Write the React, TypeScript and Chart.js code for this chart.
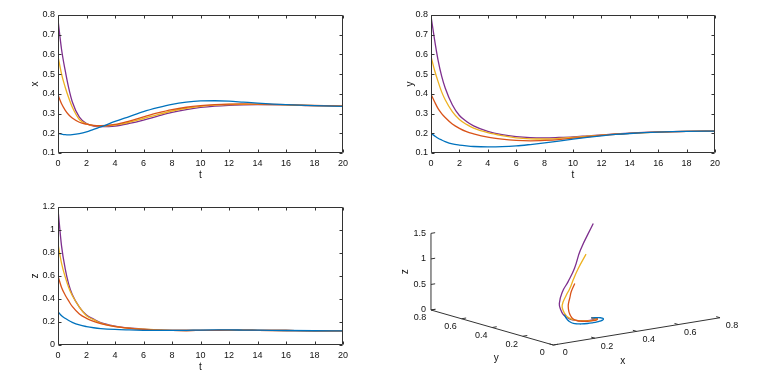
import React, { useEffect, useRef } from 'react';
import { Chart, registerables } from 'chart.js';

Chart.register(...registerables);

// ---------- data ----------
const tValues = [0, 0.25, 0.5, 0.75, 1, 1.5, 2, 2.5, 3, 4, 5, 6, 7, 8, 9, 10, 11, 12, 13, 14, 16, 18, 20];

// x(t)
const xBlue = [0.2, 0.196, 0.193, 0.192, 0.193, 0.198, 0.207, 0.22, 0.232, 0.26, 0.285, 0.31, 0.33, 0.347, 0.358, 0.364, 0.365, 0.363, 0.358, 0.353, 0.345, 0.34, 0.337];
const xRed = [0.395, 0.35, 0.318, 0.294, 0.277, 0.256, 0.246, 0.24, 0.239, 0.245, 0.262, 0.283, 0.303, 0.32, 0.332, 0.34, 0.345, 0.348, 0.349, 0.348, 0.345, 0.341, 0.338];
const xYellow = [0.59, 0.5, 0.435, 0.38, 0.333, 0.27, 0.248, 0.239, 0.237, 0.242, 0.256, 0.275, 0.295, 0.313, 0.327, 0.337, 0.343, 0.346, 0.347, 0.347, 0.344, 0.34, 0.338];
const xPurple = [0.775, 0.625, 0.52, 0.43, 0.36, 0.282, 0.25, 0.237, 0.234, 0.237, 0.25, 0.267, 0.287, 0.306, 0.32, 0.331, 0.338, 0.342, 0.344, 0.345, 0.344, 0.34, 0.338];

// y(t)
const yBlue = [0.2, 0.187, 0.175, 0.166, 0.158, 0.146, 0.14, 0.136, 0.133, 0.131, 0.132, 0.136, 0.143, 0.151, 0.16, 0.17, 0.179, 0.187, 0.194, 0.199, 0.206, 0.21, 0.211];
const yRed = [0.398, 0.36, 0.325, 0.3, 0.28, 0.247, 0.225, 0.208, 0.197, 0.18, 0.17, 0.164, 0.162, 0.164, 0.168, 0.175, 0.182, 0.189, 0.195, 0.2, 0.206, 0.21, 0.211];
const yYellow = [0.59, 0.52, 0.462, 0.41, 0.37, 0.31, 0.27, 0.245, 0.226, 0.203, 0.188, 0.177, 0.172, 0.171, 0.174, 0.179, 0.185, 0.191, 0.196, 0.2, 0.206, 0.21, 0.211];
const yPurple = [0.795, 0.675, 0.57, 0.49, 0.43, 0.345, 0.29, 0.26, 0.238, 0.21, 0.193, 0.183, 0.178, 0.177, 0.179, 0.182, 0.187, 0.192, 0.197, 0.201, 0.207, 0.21, 0.211];

// z(t)
const zBlue = [0.29, 0.255, 0.232, 0.213, 0.197, 0.174, 0.16, 0.15, 0.143, 0.135, 0.131, 0.128, 0.127, 0.127, 0.128, 0.13, 0.131, 0.131, 0.13, 0.129, 0.126, 0.124, 0.123];
const zRed = [0.6, 0.5, 0.435, 0.383, 0.335, 0.27, 0.232, 0.205, 0.185, 0.16, 0.145, 0.136, 0.13, 0.127, 0.126, 0.127, 0.128, 0.129, 0.129, 0.128, 0.126, 0.124, 0.123];
const zYellow = [0.88, 0.71, 0.594, 0.5, 0.43, 0.33, 0.255, 0.22, 0.19, 0.162, 0.146, 0.137, 0.131, 0.127, 0.126, 0.127, 0.128, 0.129, 0.129, 0.128, 0.126, 0.124, 0.123];
const zPurple = [1.18, 0.86, 0.667, 0.53, 0.44, 0.33, 0.26, 0.225, 0.195, 0.165, 0.148, 0.138, 0.131, 0.127, 0.126, 0.127, 0.128, 0.129, 0.129, 0.128, 0.126, 0.124, 0.123];

// ticks
const tTicks = { min: 0, max: 20, step: 2 };
const xTicksRange = { min: 0.1, max: 0.8, step: 0.1 };
const yTicksRange = { min: 0.1, max: 0.8, step: 0.1 };
const zTicksRange = { min: 0, max: 1.2, step: 0.2 };
const xyTicks3D = [0, 0.2, 0.4, 0.6, 0.8];
const zTicks3D = [0, 0.5, 1, 1.5];

// ---------- styles ----------
const COLORS = ['#0072BD', '#D95319', '#EDB120', '#7E2F8E'];
const AXIS = '#333333';
const TEXT = '#111111';
const FAMILY = '"Liberation Sans", Arial, Helvetica, sans-serif';
const TICK_SIZE = 9;
const TITLE_SIZE = 10;
const LW = 1.3;

const fmt = (v: any) => String(Math.round(Number(v) * 100) / 100);

const boxPlugin = {
  id: 'matlabBox',
  afterDatasetsDraw(chart: any) {
    const { ctx, chartArea } = chart;
    const L = Math.round(chartArea.left) + 0.5;
    const R = Math.round(chartArea.right) - 0.5;
    const T = Math.round(chartArea.top) + 0.5;
    const B = Math.round(chartArea.bottom) - 0.5;
    const tl = 3;
    ctx.save();
    ctx.strokeStyle = AXIS;
    ctx.lineWidth = 1;
    ctx.beginPath();
    ctx.rect(L, T, R - L, B - T);
    const sx = chart.scales.x;
    const sy = chart.scales.y;
    sx.ticks.forEach((tk: any) => {
      const p = Math.round(sx.getPixelForValue(tk.value)) + 0.5;
      ctx.moveTo(p, B); ctx.lineTo(p, B - tl);
      ctx.moveTo(p, T); ctx.lineTo(p, T + tl);
    });
    sy.ticks.forEach((tk: any) => {
      const p = Math.round(sy.getPixelForValue(tk.value)) + 0.5;
      ctx.moveTo(L, p); ctx.lineTo(L + tl, p);
      ctx.moveTo(R, p); ctx.lineTo(R - tl, p);
    });
    ctx.stroke();
    ctx.restore();
  },
};

interface Frame {
  w: number; h: number;
  left: number; top: number; right: number; bottom: number;
  yTitleX: number; xTitleY: number;
}

function make2D(canvas: HTMLCanvasElement, series: number[][], range: { min: number; max: number; step: number }, label: string, f: Frame) {
  const titleLH = TITLE_SIZE * 1.2;
  return new Chart(canvas, {
    type: 'line',
    data: {
      datasets: series.map((vals, i) => ({
        data: tValues.map((t, k) => ({ x: t, y: vals[k] })),
        borderColor: COLORS[i],
        backgroundColor: COLORS[i],
        borderWidth: LW,
        pointRadius: 0,
        fill: false,
        cubicInterpolationMode: 'monotone' as const,
      })),
    },
    options: {
      animation: false,
      responsive: false,
      maintainAspectRatio: false,
      events: [],
      layout: { padding: { left: 0, top: f.top, right: f.w - f.right, bottom: 0 } },
      plugins: { legend: { display: false }, tooltip: { enabled: false } },
      scales: {
        x: {
          type: 'linear',
          min: tTicks.min,
          max: tTicks.max,
          grid: { display: false, drawTicks: false },
          border: { display: false },
          ticks: { stepSize: tTicks.step, padding: 5, color: TEXT, font: { family: FAMILY, size: TICK_SIZE }, maxRotation: 0, autoSkip: false, callback: fmt },
          title: { display: true, text: 't', color: TEXT, font: { family: FAMILY, size: TITLE_SIZE }, padding: { top: 0, bottom: f.h - f.xTitleY - titleLH / 2 } },
          afterFit(s: any) { s.height = f.h - f.bottom; s.paddingLeft = 0; s.paddingRight = 0; },
        },
        y: {
          type: 'linear',
          min: range.min,
          max: range.max,
          grid: { display: false, drawTicks: false },
          border: { display: false },
          ticks: { stepSize: range.step, padding: 3, color: TEXT, font: { family: FAMILY, size: TICK_SIZE }, autoSkip: false, callback: fmt },
          title: { display: true, text: label, color: TEXT, font: { family: FAMILY, size: TITLE_SIZE }, padding: { top: f.yTitleX - titleLH / 2, bottom: 0 } },
          afterFit(s: any) { s.width = f.left; s.paddingTop = 0; s.paddingBottom = 0; },
        },
      },
    } as any,
    plugins: [boxPlugin],
  });
}

// 3D view projection (MATLAB-like default view), in units of the x axis
const VIEW_X = { x: 1, y: -0.7337, z: 0 };
const VIEW_Y = { x: 0.1636, y: 0.2099, z: 0.2452 };
const VIEW_RANGE = { xmin: -0.8316, xmax: 0.9966, ymin: -0.1535, ymax: 0.7438 };

function project(x: number, y: number, z: number) {
  return {
    x: x * VIEW_X.x + y * VIEW_X.y + z * VIEW_X.z,
    y: x * VIEW_Y.x + y * VIEW_Y.y + z * VIEW_Y.z,
  };
}

const axes3DPlugin = {
  id: 'axes3d',
  beforeDatasetsDraw(chart: any) {
    const { ctx } = chart;
    const sx = chart.scales.x;
    const sy = chart.scales.y;
    const P = (x: number, y: number, z: number) => {
      const q = project(x, y, z);
      return [sx.getPixelForValue(q.x), sy.getPixelForValue(q.y)];
    };
    const xyMax = xyTicks3D[xyTicks3D.length - 1];
    const zMax = zTicks3D[zTicks3D.length - 1];
    const line = (a: number[], b: number[]) => { ctx.moveTo(a[0], a[1]); ctx.lineTo(b[0], b[1]); };
    ctx.save();
    ctx.strokeStyle = AXIS;
    ctx.lineWidth = 1;
    ctx.beginPath();
    line(P(0, 0, 0), P(xyMax, 0, 0));
    line(P(0, 0, 0), P(0, xyMax, 0));
    line(P(0, xyMax, 0), P(0, xyMax, zMax));
    xyTicks3D.forEach((v) => {
      line(P(v, 0, 0), P(v, 0.025, 0));
      line(P(0, v, 0), P(0.022, v, 0));
    });
    zTicks3D.forEach((v) => {
      line(P(0, xyMax, v), P(0.02, xyMax, v));
    });
    ctx.stroke();

    ctx.fillStyle = TEXT;
    ctx.font = `${TICK_SIZE}px ${FAMILY}`;
    ctx.textBaseline = 'middle';
    ctx.textAlign = 'center';
    xyTicks3D.forEach((v) => {
      const a = P(v, 0, 0);
      ctx.fillText(fmt(v), a[0] + 12, a[1] + 8);
      const b = P(0, v, 0);
      ctx.fillText(fmt(v), b[0] - 11, b[1] + 8);
    });
    ctx.textAlign = 'right';
    zTicks3D.forEach((v) => {
      const c = P(0, xyMax, v);
      ctx.fillText(fmt(v), c[0] - 5, c[1]);
    });
    ctx.font = `${TITLE_SIZE}px ${FAMILY}`;
    ctx.textAlign = 'center';
    const mx = P(xyMax / 2, 0, 0);
    ctx.fillText('x', mx[0] - 14, mx[1] + 30);
    const my = P(0, xyMax / 2, 0);
    ctx.fillText('y', my[0] + 4, my[1] + 31);
    const mz = P(0, xyMax, zMax / 2);
    ctx.translate(mz[0] - 26, mz[1]);
    ctx.rotate(-Math.PI / 2);
    ctx.fillText('z', 0, 0);
    ctx.restore();
  },
};

function make3D(canvas: HTMLCanvasElement) {
  const xs = [xBlue, xRed, xYellow, xPurple];
  const ys = [yBlue, yRed, yYellow, yPurple];
  const zs = [zBlue, zRed, zYellow, zPurple];
  return new Chart(canvas, {
    type: 'scatter',
    data: {
      datasets: xs.map((xv, i) => ({
        data: xv.map((xx, k) => project(xx, ys[i][k], zs[i][k])),
        borderColor: COLORS[i],
        backgroundColor: COLORS[i],
        borderWidth: LW,
        pointRadius: 0,
        showLine: true,
        tension: 0.45,
        fill: false,
      })),
    },
    options: {
      animation: false,
      responsive: false,
      maintainAspectRatio: false,
      events: [],
      clip: false,
      layout: { padding: 0 },
      plugins: { legend: { display: false }, tooltip: { enabled: false } },
      scales: {
        x: { type: 'linear', display: false, min: VIEW_RANGE.xmin, max: VIEW_RANGE.xmax },
        y: { type: 'linear', display: false, min: VIEW_RANGE.ymin, max: VIEW_RANGE.ymax },
      },
    } as any,
    plugins: [axes3DPlugin],
  });
}

export default function App() {
  const r1 = useRef<HTMLCanvasElement>(null);
  const r2 = useRef<HTMLCanvasElement>(null);
  const r3 = useRef<HTMLCanvasElement>(null);
  const r4 = useRef<HTMLCanvasElement>(null);

  useEffect(() => {
    const charts = [
      make2D(r1.current!, [xBlue, xRed, xYellow, xPurple], xTicksRange, 'x',
        { w: 380, h: 190, left: 58, top: 15, right: 343, bottom: 153, yTitleX: 35, xTitleY: 175 }),
      make2D(r2.current!, [yBlue, yRed, yYellow, yPurple], yTicksRange, 'y',
        { w: 381, h: 190, left: 51, top: 15, right: 335, bottom: 153, yTitleX: 30, xTitleY: 175 }),
      make2D(r3.current!, [zBlue, zRed, zYellow, zPurple], zTicksRange, 'z',
        { w: 380, h: 187, left: 58, top: 17, right: 343, bottom: 155, yTitleX: 35, xTitleY: 177 }),
      make3D(r4.current!),
    ];
    return () => charts.forEach((c) => c.destroy());
  }, []);

  const cs = (l: number, t: number): React.CSSProperties => ({ position: 'absolute', left: l, top: t });
  return (
    <div style={{ position: 'absolute', left: 0, top: 0, width: 761, height: 377, background: '#fff', overflow: 'hidden' }}>
      <canvas ref={r1} width={380} height={190} style={cs(0, 0)} />
      <canvas ref={r2} width={381} height={190} style={cs(380, 0)} />
      <canvas ref={r3} width={380} height={187} style={cs(0, 190)} />
      <canvas ref={r4} width={381} height={187} style={cs(380, 190)} />
    </div>
  );
}
